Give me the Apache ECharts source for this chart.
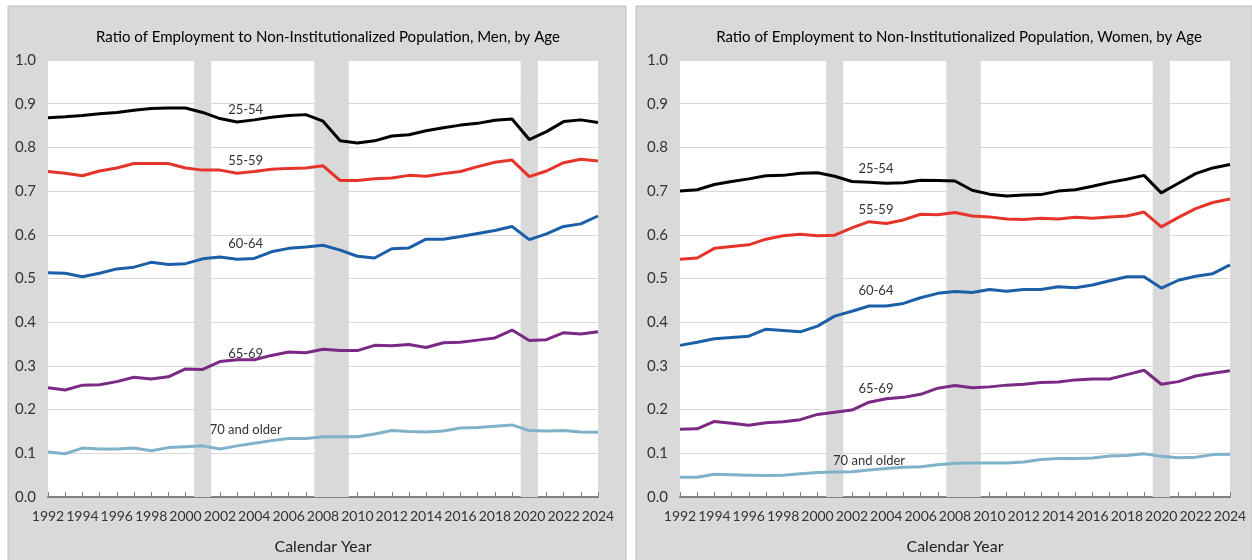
<!DOCTYPE html>
<html>
<head>
<meta charset="utf-8">
<script src="https://cdn.jsdelivr.net/npm/echarts@6/dist/echarts.min.js"></script>
<style>
  html, body { margin: 0; padding: 0; background: #fff; }
  #main { width: 1252px; height: 560px; }
</style>
</head>
<body>
<div id="main"></div>
<script>
// years 1992..2024
var years = [];
for (var y = 1992; y <= 2024; y++) years.push(y);

// men
var men2554 = [0.868,0.870,0.873,0.877,0.880,0.885,0.889,0.890,0.890,0.880,0.866,0.858,0.863,0.869,0.873,0.875,0.860,0.815,0.810,0.815,0.826,0.829,0.838,0.845,0.851,0.855,0.862,0.865,0.818,0.836,0.859,0.863,0.857];
var men5559 = [0.745,0.741,0.735,0.746,0.753,0.763,0.763,0.763,0.753,0.748,0.748,0.741,0.745,0.750,0.752,0.753,0.758,0.724,0.724,0.728,0.730,0.736,0.734,0.740,0.745,0.756,0.766,0.771,0.733,0.746,0.765,0.773,0.769];
var men6064 = [0.513,0.512,0.504,0.512,0.522,0.526,0.537,0.532,0.534,0.545,0.549,0.544,0.546,0.561,0.569,0.572,0.576,0.565,0.551,0.547,0.568,0.570,0.590,0.590,0.596,0.603,0.610,0.619,0.589,0.602,0.619,0.625,0.643];
var men6569 = [0.250,0.245,0.256,0.257,0.264,0.274,0.270,0.275,0.293,0.292,0.310,0.314,0.314,0.324,0.332,0.330,0.338,0.335,0.335,0.347,0.346,0.349,0.342,0.353,0.354,0.359,0.364,0.382,0.358,0.360,0.376,0.373,0.378];
var men70 = [0.103,0.099,0.112,0.110,0.110,0.112,0.106,0.113,0.115,0.117,0.110,0.117,0.123,0.129,0.134,0.134,0.138,0.138,0.138,0.144,0.152,0.150,0.149,0.151,0.158,0.159,0.162,0.165,0.152,0.151,0.152,0.149,0.148];

// women
var women2554 = [0.700,0.703,0.715,0.722,0.728,0.735,0.736,0.741,0.742,0.734,0.722,0.720,0.718,0.719,0.725,0.724,0.723,0.702,0.693,0.689,0.691,0.692,0.700,0.703,0.711,0.720,0.727,0.736,0.696,0.718,0.740,0.753,0.761];
var women5559 = [0.544,0.547,0.569,0.573,0.577,0.590,0.598,0.601,0.598,0.599,0.616,0.630,0.626,0.634,0.647,0.646,0.651,0.643,0.641,0.636,0.635,0.638,0.636,0.640,0.638,0.641,0.643,0.652,0.618,0.640,0.660,0.674,0.682];
var women6064 = [0.347,0.354,0.362,0.365,0.368,0.384,0.381,0.378,0.391,0.414,0.425,0.437,0.437,0.443,0.456,0.466,0.470,0.468,0.475,0.471,0.475,0.475,0.481,0.479,0.485,0.495,0.504,0.504,0.478,0.496,0.505,0.511,0.531];
var women6569 = [0.155,0.156,0.173,0.169,0.164,0.170,0.172,0.177,0.189,0.194,0.199,0.217,0.225,0.228,0.235,0.249,0.255,0.250,0.252,0.256,0.258,0.262,0.263,0.268,0.270,0.270,0.280,0.290,0.258,0.264,0.277,0.283,0.289];
var women70 = [0.045,0.045,0.052,0.051,0.050,0.049,0.050,0.053,0.056,0.057,0.058,0.062,0.065,0.068,0.069,0.074,0.077,0.078,0.078,0.078,0.080,0.086,0.088,0.088,0.089,0.094,0.095,0.099,0.093,0.090,0.091,0.097,0.098];

// recessions (shaded)
var recessions = [[2000.5, 2001.5], [2007.5, 2009.5], [2019.5, 2020.5]];

var ageNames = ['25-54', '55-59', '60-64', '65-69', '70 and older'];
var colors = ['#000000', '#e5352b', '#1b5fa8', '#7a2a84', '#7fb1c9'];

// where the age labels sit (year, ratio)
var menLabelPos = [[2003.5, 0.887], [2003.5, 0.769], [2003.5, 0.579], [2003.5, 0.328], [2003.5, 0.154]];
var womenLabelPos = [[2003.4, 0.752], [2003.4, 0.658], [2003.4, 0.471], [2003.4, 0.248], [2003.0, 0.083]];

var FONT = "Lato, 'Open Sans', sans-serif";

function pairs(vals) {
  return vals.map(function (v, i) { return [years[i], v]; });
}

function buildSeries(list, idx, labelPos) {
  return list.map(function (vals, i) {
    var s = {
      name: ageNames[i],
      type: 'line',
      xAxisIndex: idx,
      yAxisIndex: idx,
      data: pairs(vals),
      showSymbol: false,
      symbol: 'none',
      lineStyle: { color: colors[i], width: 3 },
      itemStyle: { color: colors[i] },
      z: 5,
      markPoint: {
        symbol: 'rect',
        symbolSize: [1, 1],
        itemStyle: { color: 'rgba(0,0,0,0)' },
        label: {
          show: true, position: 'inside', color: '#333',
          fontFamily: FONT, fontSize: 13,
          formatter: function (p) { return p.name; }
        },
        data: [{ name: ageNames[i], coord: labelPos[i] }]
      }
    };
    if (i === 0) {
      s.markArea = {
        silent: true,
        itemStyle: { color: '#d9d9d9', opacity: 1 },
        data: recessions.map(function (r) {
          return [{ xAxis: r[0], yAxis: 0 }, { xAxis: r[1], yAxis: 1 }];
        })
      };
    }
    return s;
  });
}

function xAxisFor(idx) {
  return {
    type: 'value', gridIndex: idx, min: 1992, max: 2024, interval: 1,
    name: 'Calendar Year', nameLocation: 'middle', nameGap: 42,
    nameTextStyle: { fontFamily: FONT, fontSize: 16, color: '#222' },
    axisLine: { show: true, lineStyle: { color: '#808080', width: 2 } },
    axisTick: { show: true, inside: true, length: 5, lineStyle: { color: '#808080' } },
    axisLabel: {
      fontFamily: FONT, fontSize: 14, color: '#333', margin: 12,
      formatter: function (v) { return v % 2 === 0 ? String(v) : ''; }
    },
    splitLine: { show: false }
  };
}

function yAxisFor(idx) {
  return {
    type: 'value', gridIndex: idx, min: 0, max: 1, interval: 0.1,
    axisLine: { show: false },
    axisTick: { show: false },
    axisLabel: {
      fontFamily: FONT, fontSize: 15, color: '#333', margin: 12,
      formatter: function (v) { return v.toFixed(1); }
    },
    splitLine: { show: true, lineStyle: { color: '#d9d9d9', width: 1 } }
  };
}

var chart = echarts.init(document.getElementById('main'));
chart.setOption({
  animation: false,
  backgroundColor: '#fff',
  graphic: [
    { type: 'rect', shape: { x: 8, y: 6, width: 618, height: 560 }, style: { fill: '#d9d9d9', stroke: '#bfbfbf', lineWidth: 1 }, z: -10 },
    { type: 'rect', shape: { x: 636, y: 6, width: 616, height: 560 }, style: { fill: '#d9d9d9', stroke: '#bfbfbf', lineWidth: 1 }, z: -10 }
  ],
  title: [
    {
      text: 'Ratio of Employment to Non-Institutionalized Population, Men, by Age',
      left: 323, top: 25, textAlign: 'center',
      textStyle: { fontFamily: FONT, fontSize: 15, fontWeight: 'normal', color: '#000' }
    },
    {
      text: 'Ratio of Employment to Non-Institutionalized Population, Women, by Age',
      left: 954, top: 25, textAlign: 'center',
      textStyle: { fontFamily: FONT, fontSize: 15, fontWeight: 'normal', color: '#000' }
    }
  ],
  grid: [
    { left: 48, top: 60, width: 550, height: 442, show: true, backgroundColor: '#fff', borderWidth: 0 },
    { left: 680, top: 60, width: 550, height: 442, show: true, backgroundColor: '#fff', borderWidth: 0 }
  ],
  xAxis: [xAxisFor(0), xAxisFor(1)],
  yAxis: [yAxisFor(0), yAxisFor(1)],
  series: buildSeries([men2554, men5559, men6064, men6569, men70], 0, menLabelPos)
    .concat(buildSeries([women2554, women5559, women6064, women6569, women70], 1, womenLabelPos))
});
</script>
</body>
</html>
